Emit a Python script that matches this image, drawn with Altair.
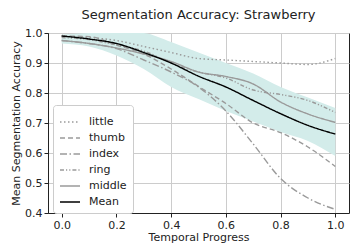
import altair as alt
import pandas as pd

progress = [0.0, 0.1, 0.2, 0.3, 0.4, 0.5, 0.6, 0.7, 0.8, 0.9, 1.0]
little = [0.990, 0.985, 0.975, 0.955, 0.935, 0.915, 0.910, 0.905, 0.900, 0.895, 0.915]
thumb = [0.990, 0.988, 0.960, 0.930, 0.880, 0.822, 0.765, 0.700, 0.668, 0.620, 0.555]
index = [0.975, 0.965, 0.948, 0.910, 0.870, 0.820, 0.740, 0.630, 0.515, 0.450, 0.412]
ring = [0.985, 0.978, 0.960, 0.940, 0.900, 0.870, 0.850, 0.810, 0.795, 0.775, 0.735]
middle = [0.975, 0.965, 0.950, 0.930, 0.905, 0.870, 0.855, 0.830, 0.770, 0.730, 0.702]
mean = [0.990, 0.980, 0.965, 0.935, 0.900, 0.856, 0.820, 0.775, 0.731, 0.692, 0.663]
band_upper = [0.995, 1.000, 1.005, 1.000, 0.970, 0.935, 0.900, 0.865, 0.820, 0.785, 0.750]
band_lower = [0.965, 0.955, 0.925, 0.880, 0.820, 0.780, 0.740, 0.705, 0.670, 0.640, 0.590]

series_names = ["little", "thumb", "index", "ring", "middle", "Mean"]
series_values = [little, thumb, index, ring, middle, mean]
series_colors = ["#9a9a9a", "#9a9a9a", "#9a9a9a", "#9a9a9a", "#9a9a9a", "#000000"]
series_dashes = [[1.5, 2.5], [5, 3], [7, 2.5, 1.5, 2.5], [4, 2, 1.2, 2, 1.2, 2], [1, 0], [1, 0]]
series_widths = [1.4, 1.4, 1.4, 1.4, 1.4, 2.2]

rows = []
for name, vals in zip(series_names, series_values):
    for x, v in zip(progress, vals):
        rows.append({"series": name, "x": x, "y": v, "ord": series_names.index(name)})
df = pd.DataFrame(rows)
band = pd.DataFrame({"x": progress, "lo": band_lower, "hi": band_upper})

xscale = alt.Scale(domain=[-0.05, 1.05], nice=False, zero=False)
yscale = alt.Scale(domain=[0.4, 1.0], nice=False, zero=False)

xaxis = alt.Axis(values=[0.0, 0.2, 0.4, 0.6, 0.8, 1.0], format=".1f", title="Temporal Progress")
yaxis = alt.Axis(values=[0.4, 0.5, 0.6, 0.7, 0.8, 0.9, 1.0], format=".1f", title="Mean Segmentation Accuracy")

area = alt.Chart(band).mark_area(color="#d3ecea", clip=True, interpolate="monotone").encode(
    x=alt.X("x:Q", scale=xscale, axis=xaxis),
    y=alt.Y("lo:Q", scale=yscale, axis=yaxis),
    y2="hi:Q",
)

leg = alt.Legend(
    title=None, orient="none", legendX=5, legendY=72,
    fillColor="white", strokeColor="#cccccc", cornerRadius=3, padding=6,
    symbolType="stroke", symbolSize=400, labelFontSize=11, labelFont="DejaVu Sans",
    labelColor="#222222", rowPadding=-1, labelOffset=8,
)

lines = alt.Chart(df).mark_line(interpolate="monotone", clip=True).encode(
    x=alt.X("x:Q", scale=xscale, axis=xaxis),
    y=alt.Y("y:Q", scale=yscale, axis=yaxis),
    color=alt.Color("series:N", scale=alt.Scale(domain=series_names, range=series_colors), legend=leg),
    strokeDash=alt.StrokeDash("series:N", scale=alt.Scale(domain=series_names, range=series_dashes), legend=leg),
    strokeWidth=alt.StrokeWidth("series:N", scale=alt.Scale(domain=series_names, range=series_widths), legend=leg),
    order=alt.Order("ord:Q"),
)

chart = alt.layer(area, lines).properties(
    width=301, height=180,
    title=alt.Title("Segmentation Accuracy: Strawberry", fontSize=13, fontWeight="normal",
                    font="DejaVu Sans", color="#222222", anchor="middle", offset=5),
    autosize=alt.AutoSizeParams(type="none"),
    padding={"left": 40, "top": 25, "right": 2, "bottom": 31},
).configure_view(
    stroke="#222222", strokeWidth=1
).configure_axis(
    grid=True, gridColor="#cccccc", gridWidth=1,
    domain=True, domainColor="#222222",
    tickColor="#222222", tickSize=4,
    labelFont="DejaVu Sans", labelFontSize=11, labelColor="#222222", labelPadding=2,
    titleFont="DejaVu Sans", titleFontSize=11, titleFontWeight="normal", titleColor="#222222",
).configure_axisY(
    titlePadding=3
).configure_axisX(
    titlePadding=1
)

chart.save("out.html", embed_options={"renderer": "svg", "actions": False})
